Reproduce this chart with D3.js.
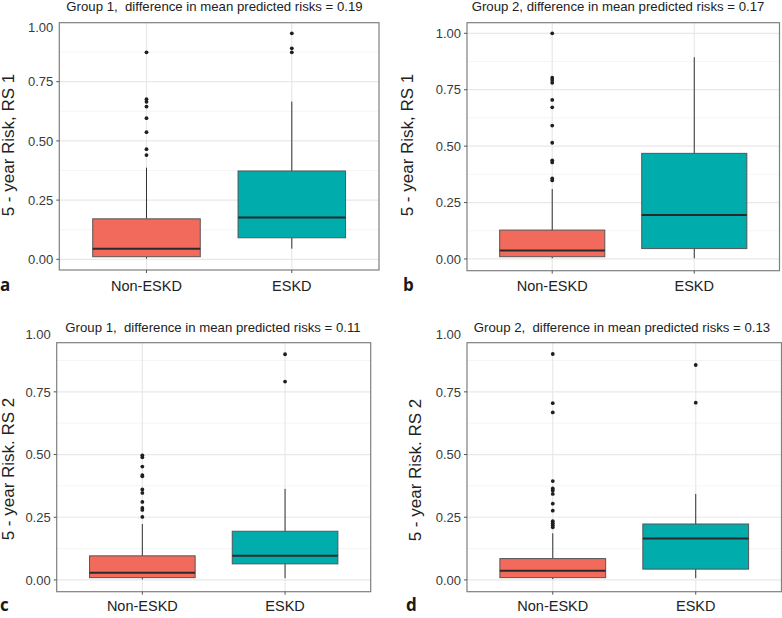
<!DOCTYPE html>
<html>
<head>
<meta charset="utf-8">
<script src="https://cdn.jsdelivr.net/npm/d3@7"></script>
<style>
  html, body { margin: 0; padding: 0; background: #ffffff; }
  svg { display: block; }
  text { font-family: "Liberation Sans", Arial, sans-serif; }
</style>
</head>
<body>
<svg id="chart" width="782" height="618"></svg>
<script>
// ---------------- data ----------------
const categories = ["Non-ESKD", "ESKD"];
const panelLetters = ["a", "b", "c", "d"];
const panelTitles = [
  "Group 1,  difference in mean predicted risks = 0.19",
  "Group 2, difference in mean predicted risks = 0.17",
  "Group 1,  difference in mean predicted risks = 0.11",
  "Group 2,  difference in mean predicted risks = 0.13"
];
const yAxisTitles = [
  "5 - year Risk, RS 1",
  "5 - year Risk, RS 1",
  "5 - year Risk. RS 2",
  "5 - year Risk. RS 2"
];
const yTickValues = [0, 0.25, 0.5, 0.75, 1.0];
const yTickLabels = ["0.00", "0.25", "0.50", "0.75", "1.00"];
const yMinorValues = [0.125, 0.375, 0.625, 0.875];

// box statistics per panel: [lowerWhisker, q1, median, q3, upperWhisker] for Non-ESKD, ESKD
const boxA = [[0.003, 0.011, 0.045, 0.171, 0.387], [0.045, 0.091, 0.177, 0.373, 0.666]];
const boxB = [[0.003, 0.010, 0.037, 0.128, 0.310], [0.003, 0.046, 0.195, 0.468, 0.894]];
const boxC = [[0.002, 0.009, 0.029, 0.096, 0.223], [0.007, 0.064, 0.096, 0.194, 0.363]];
const boxD = [[0.003, 0.009, 0.037, 0.085, 0.186], [0.007, 0.043, 0.165, 0.223, 0.343]];

// outliers per panel: Non-ESKD, ESKD
const outA = [[0.874, 0.676, 0.665, 0.645, 0.596, 0.537, 0.465, 0.440], [0.954, 0.891, 0.874]];
const outB = [[1.0, 0.803, 0.793, 0.781, 0.705, 0.672, 0.591, 0.515, 0.437, 0.428, 0.357, 0.348], []];
const outC = [[0.497, 0.489, 0.452, 0.418, 0.413, 0.361, 0.347, 0.311, 0.287, 0.279, 0.251], [0.900, 0.791]];
const outD = [[0.901, 0.705, 0.668, 0.394, 0.365, 0.357, 0.343, 0.304, 0.276, 0.234, 0.226, 0.218, 0.210], [0.857, 0.707]];

// y-axis domains (value range covered by each panel, incl. expansion)
const yDomains = [[-0.045, 0.999], [-0.052, 1.047], [-0.047, 0.946], [-0.047, 0.946]];

const boxes = [boxA, boxB, boxC, boxD];
const outliers = [outA, outB, outC, outD];
const fillColors = ["#F26A5B", "#00ACAC"];

// ---------------- layout ----------------
const panels = [
  { left: 59.3, right: 379, top: 22.7, bottom: 270, titleX: 214.5, titleY: 11, yTitleX: 8, yTitleY: 145, letterX: 0, letterY: 291, catY: 290.5 },
  { left: 467, right: 779.5, top: 22.7, bottom: 270.7, titleX: 618, titleY: 11, yTitleX: 407, yTitleY: 145, letterX: 403, letterY: 291, catY: 290.5 },
  { left: 56.7, right: 370.7, top: 342.7, bottom: 591.7, titleX: 213, titleY: 332, yTitleX: 8, yTitleY: 469, letterX: 0, letterY: 611, catY: 610.5 },
  { left: 467, right: 781.5, top: 342.7, bottom: 591.7, titleX: 622, titleY: 332, yTitleX: 415, yTitleY: 470, letterX: 406, letterY: 611, catY: 610.5 }
];

const svg = d3.select("#chart");

panels.forEach((p, i) => {
  const g = svg.append("g");
  const y = d3.scaleLinear().domain(yDomains[i]).range([p.bottom, p.top]);
  const x = d3.scalePoint().domain(categories).range([p.left, p.right]).padding(0.6);
  const step = x.step();
  const bw = step * 0.74;

  g.append("rect")
    .attr("x", p.left).attr("y", p.top)
    .attr("width", p.right - p.left).attr("height", p.bottom - p.top)
    .attr("fill", "#ffffff");

  // minor grid
  g.selectAll(".minor").data(yMinorValues.filter(v => v >= yDomains[i][0] && v <= yDomains[i][1]))
    .enter().append("line")
    .attr("x1", p.left).attr("x2", p.right)
    .attr("y1", d => y(d)).attr("y2", d => y(d))
    .attr("stroke", "#f2f2f2").attr("stroke-width", 0.8);

  // major grid
  g.selectAll(".major").data(yTickValues.filter(v => v >= yDomains[i][0] && v <= yDomains[i][1]))
    .enter().append("line")
    .attr("x1", p.left).attr("x2", p.right)
    .attr("y1", d => y(d)).attr("y2", d => y(d))
    .attr("stroke", "#e8e8e8").attr("stroke-width", 1.2);

  g.selectAll(".vgrid").data(categories).enter().append("line")
    .attr("x1", d => x(d)).attr("x2", d => x(d))
    .attr("y1", p.top).attr("y2", p.bottom)
    .attr("stroke", "#e8e8e8").attr("stroke-width", 1.2);

  // boxes
  categories.forEach((c, k) => {
    const s = boxes[i][k];
    const cx = x(c);
    g.append("line").attr("x1", cx).attr("x2", cx)
      .attr("y1", y(s[3])).attr("y2", y(s[4]))
      .attr("stroke", "#333").attr("stroke-width", 1);
    g.append("line").attr("x1", cx).attr("x2", cx)
      .attr("y1", y(s[1])).attr("y2", y(s[0]))
      .attr("stroke", "#333").attr("stroke-width", 1);
    g.append("rect")
      .attr("x", cx - bw / 2).attr("width", bw)
      .attr("y", y(s[3])).attr("height", y(s[1]) - y(s[3]))
      .attr("fill", fillColors[k]).attr("stroke", "#555").attr("stroke-width", 1);
    g.append("line").attr("x1", cx - bw / 2).attr("x2", cx + bw / 2)
      .attr("y1", y(s[2])).attr("y2", y(s[2]))
      .attr("stroke", "#2a2a2a").attr("stroke-width", 2);
    g.selectAll(null).data(outliers[i][k]).enter().append("circle")
      .attr("cx", cx).attr("cy", d => y(d)).attr("r", 1.9)
      .attr("fill", "#1f1f1f");
  });

  // panel border
  g.append("rect")
    .attr("x", p.left).attr("y", p.top)
    .attr("width", p.right - p.left).attr("height", p.bottom - p.top)
    .attr("fill", "none").attr("stroke", "#7f7f7f").attr("stroke-width", 1.2);

  // y ticks & labels
  yTickValues.forEach((v, t) => {
    const inside = v >= yDomains[i][0] && v <= yDomains[i][1];
    if (inside) {
      g.append("line").attr("x1", p.left - 3).attr("x2", p.left)
        .attr("y1", y(v)).attr("y2", y(v))
        .attr("stroke", "#555").attr("stroke-width", 1);
    }
    g.append("text")
      .attr("x", p.left - 6)
      .attr("y", y(v) + (inside ? 0 : 5))
      .attr("dy", "0.36em")
      .attr("text-anchor", "end")
      .attr("font-size", 13)
      .attr("fill", "#3a3a3a")
      .text(yTickLabels[t]);
  });

  // x ticks & labels
  categories.forEach(c => {
    g.append("line").attr("x1", x(c)).attr("x2", x(c))
      .attr("y1", p.bottom).attr("y2", p.bottom + 3)
      .attr("stroke", "#555").attr("stroke-width", 1);
    g.append("text")
      .attr("x", x(c)).attr("y", p.catY)
      .attr("text-anchor", "middle")
      .attr("font-size", 14.5)
      .attr("fill", "#222")
      .text(c);
  });

  // title
  g.append("text")
    .attr("x", p.titleX).attr("y", p.titleY)
    .attr("text-anchor", "middle")
    .attr("font-size", 13.2)
    .attr("fill", "#222")
    .attr("xml:space", "preserve")
    .style("white-space", "pre")
    .text(panelTitles[i]);

  // y axis title
  g.append("text")
    .attr("transform", `translate(${p.yTitleX},${p.yTitleY}) rotate(-90)`)
    .attr("dy", "0.36em")
    .attr("text-anchor", "middle")
    .attr("font-size", 17)
    .attr("fill", "#222")
    .text(yAxisTitles[i]);

  // panel letter
  g.append("text")
    .attr("x", p.letterX).attr("y", p.letterY)
    .attr("font-size", 17)
    .attr("font-weight", "bold")
    .attr("fill", "#1a1a1a")
    .style("font-family", "'Open Sans', 'DejaVu Sans', sans-serif")
    .text(panelLetters[i]);
});
</script>
</body>
</html>
